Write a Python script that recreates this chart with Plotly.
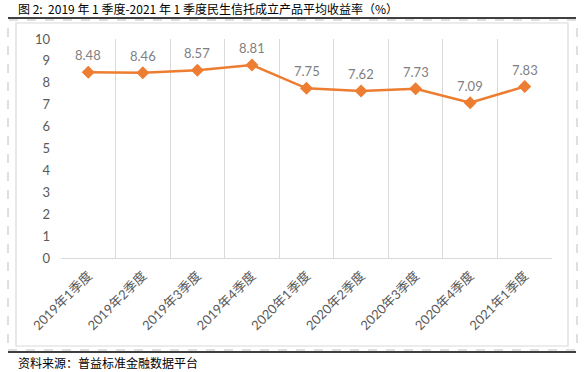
import plotly.graph_objects as go

categories = ["2019年1季度", "2019年2季度", "2019年3季度", "2019年4季度",
              "2020年1季度", "2020年2季度", "2020年3季度", "2020年4季度", "2021年1季度"]
values = [8.48, 8.46, 8.57, 8.81, 7.75, 7.62, 7.73, 7.09, 7.83]
y_ticks = list(range(0, 11))

title_text = "图 2:  2019 年 1 季度-2021 年 1 季度民生信托成立产品平均收益率（%）"
source_text = "资料来源：普益标准金融数据平台"

W, H = 586, 372
L, R, T, B = 61, 552, 39, 258
pw, ph = R - L, B - T

def px(x):
    return (x - L) / pw

def py(y):
    return (B - y) / ph

fig = go.Figure()
fig.add_trace(go.Scatter(
    x=categories, y=values, mode="lines+markers",
    line=dict(color="#ED7D31", width=2.5),
    marker=dict(symbol="diamond", size=10, color="#ED7D31"),
    hoverinfo="skip", showlegend=False,
))

for c, v in zip(categories, values):
    fig.add_annotation(x=c, y=v, text=f"{v:.2f}", showarrow=False,
                       yshift=17, font=dict(family="Lato, Open Sans, sans-serif", size=13, color="#7F7F7F"))

fig.add_annotation(xref="paper", yref="paper", x=px(16), y=py(9), xanchor="left", yanchor="middle",
                   text=title_text, showarrow=False,
                   font=dict(family="Noto Sans CJK SC", size=12, color="#000000"))
fig.add_annotation(xref="paper", yref="paper", x=px(16), y=py(362), xanchor="left", yanchor="middle",
                   text=source_text, showarrow=False,
                   font=dict(family="Noto Sans CJK SC", size=12, color="#000000"))

shapes = [
    dict(type="rect", xref="paper", yref="paper", x0=px(8), x1=px(577), y0=py(350), y1=py(20),
         line=dict(color="#BFBFBF", width=1, dash="dash"), fillcolor="rgba(0,0,0,0)", layer="below"),
    dict(type="rect", xref="paper", yref="paper", x0=px(16), x1=px(568), y0=py(346), y1=py(23),
         line=dict(color="#D9D9D9", width=1.2), fillcolor="rgba(0,0,0,0)", layer="below"),
    dict(type="line", xref="paper", yref="paper", x0=px(8), x1=px(576), y0=py(18), y1=py(18),
         line=dict(color="#000000", width=1.5)),
    dict(type="line", xref="paper", yref="paper", x0=px(8), x1=px(576), y0=py(352), y1=py(352),
         line=dict(color="#000000", width=1.5)),
]

fig.update_layout(
    width=W, height=H,
    margin=dict(l=L, r=W - R, t=T, b=H - B),
    paper_bgcolor="white", plot_bgcolor="white",
    shapes=shapes,
    xaxis=dict(
        type="category", tickson="boundaries", showgrid=True, gridcolor="#D9D9D9", gridwidth=1,
        showline=True, linecolor="#D9D9D9", linewidth=1, mirror=False,
        ticks="", tickangle=-45, automargin=False, ticklabelstandoff=4,
        tickfont=dict(family="Lato, Noto Sans CJK SC", size=13, color="#595959"),
        range=[-0.5, len(categories) - 0.5],
    ),
    yaxis=dict(
        range=[0, 10], tickvals=y_ticks, showgrid=False, zeroline=False, automargin=False,
        showline=False, ticks="", ticklabelstandoff=10,
        tickfont=dict(family="Lato, Open Sans, sans-serif", size=13, color="#595959"),
    ),
)

fig.write_html("out.html", config={"displayModeBar": False},
               post_script="document.body.style.margin='0px';document.body.style.overflow='hidden';")
